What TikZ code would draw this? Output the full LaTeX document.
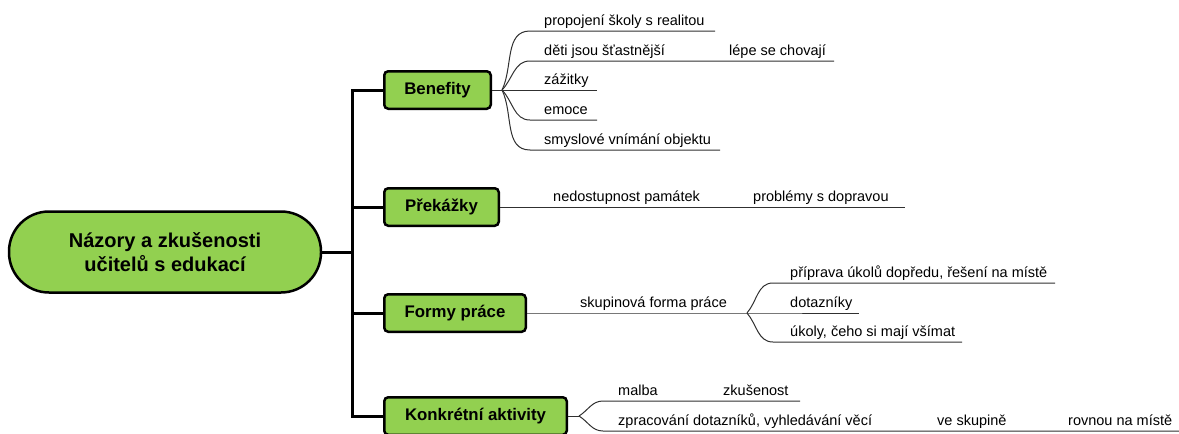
\documentclass[tikz,border=0pt]{standalone}
\usepackage{fontspec}
\setmainfont{Liberation Sans}
\definecolor{boxgreen}{HTML}{92D050}
\definecolor{linegray}{HTML}{303030}
\begin{document}
\begin{tikzpicture}[x=1pt,y=-1pt,
  root/.style={draw=black,line width=2.5pt,fill=boxgreen,rounded corners=40pt,minimum width=312pt,minimum height=81pt,align=center,inner sep=0pt,font=\bfseries\fontsize{20}{24}\selectfont},
  topic/.style={draw=black,line width=2.5pt,fill=boxgreen,rounded corners=4pt,minimum height=37.5pt,inner sep=0pt,font=\bfseries\fontsize{16.8}{20}\selectfont},
  leaf/.style={anchor=base west,inner sep=0pt,font=\fontsize{14.5}{17}\selectfont},
  trunk/.style={line width=3pt,draw=black},
  twig/.style={line width=1pt,draw=linegray},
]
\useasboundingbox (0,0) rectangle (1179,434);

% main nodes
\node[root] (root) at (165,252) {Názory a zkušenosti\\učitelů s edukací};
\node[topic,minimum width=106.5pt] (ben) at (437.5,90) {Benefity};
\node[topic,minimum width=114.5pt] (pre) at (441.5,207) {Překážky};
\node[topic,minimum width=141.5pt] (for) at (455,313) {Formy práce};
\node[topic,minimum width=182.5pt] (kon) at (475.5,416) {Konkrétní aktivity};

% trunk
\coordinate (tj) at (352,252);
\coordinate (ttop) at (352,90);
\coordinate (tbot) at (352,416);
\draw[trunk] (root.east) -- (tj);
\draw[trunk] (ben.west) -- (ttop) -- (tbot) -- (kon.west);
\draw[trunk] (tj |- pre.west) -- (pre.west);
\draw[trunk] (tj |- for.west) -- (for.west);

% Benefity branches
\coordinate (bb) at (502,90);
\coordinate (b1s) at (530,31); \coordinate (b1e) at (715,31);
\coordinate (b2s) at (530,61); \coordinate (b2e) at (834,61);
\coordinate (b3e) at (597,90);
\coordinate (b4s) at (530,120); \coordinate (b4e) at (597,120);
\coordinate (b5s) at (530,150); \coordinate (b5e) at (720,150);
\draw[twig] (ben.east) -- (b3e);
\draw[twig] (bb) to[out=64,in=180] (b1s) -- (b1e);
\draw[twig] (bb) to[out=46,in=180] (b2s) -- (b2e);
\draw[twig] (bb) to[out=-46,in=180] (b4s) -- (b4e);
\draw[twig] (bb) to[out=-64,in=180] (b5s) -- (b5e);
\node[leaf] (l1) at (544,25) {propojení školy s realitou};
\node[leaf] (l2) at (544,55) {děti jsou šťastnější};
\node[leaf] (l2b) at (729,55) {lépe se chovají};
\node[leaf] (l3) at (544,84) {zážitky};
\node[leaf] (l4) at (544,114) {emoce};
\node[leaf] (l5) at (544,144) {smyslové vnímání objektu};

% Překážky
\coordinate (pe) at (905,207);
\draw[twig] (pre.east) -- (pe);
\node[leaf] (p1) at (553,201) {nedostupnost památek};
\node[leaf] (p2) at (753,201) {problémy s dopravou};

% Formy práce
\coordinate (fb) at (747,313);
\coordinate (f1s) at (773,283); \coordinate (f1e) at (1055,283);
\coordinate (f2e) at (859,313);
\coordinate (f3s) at (773,342); \coordinate (f3e) at (962,342);
\draw[twig] (for.east) -- (fb) -- (f2e);
\draw[twig] (fb) to[out=49,in=180] (f1s) -- (f1e);
\draw[twig] (fb) to[out=-49,in=180] (f3s) -- (f3e);
\node[leaf] (f0) at (580,307) {skupinová forma práce};
\node[leaf] (f1) at (790,277) {příprava úkolů dopředu, řešení na místě};
\node[leaf] (f2) at (790,307) {dotazníky};
\node[leaf] (f3) at (790,336) {úkoly, čeho si mají všímat};

% Konkrétní aktivity
\coordinate (kb) at (579,416);
\coordinate (k1s) at (603,401); \coordinate (k1e) at (800,401);
\coordinate (k2s) at (603,431); \coordinate (k2e) at (1179,431);
\draw[twig] (kon.east) -- (kb);
\draw[twig] (kb) to[out=32,in=180] (k1s) -- (k1e);
\draw[twig] (kb) to[out=-32,in=180] (k2s) -- (k2e);
\node[leaf] (k1) at (618,395) {malba};
\node[leaf] (k1b) at (723,395) {zkušenost};
\node[leaf] (k2) at (618,425) {zpracování dotazníků, vyhledávání věcí};
\node[leaf] (k2b) at (937,425) {ve skupině};
\node[leaf] (k2c) at (1068,425) {rovnou na místě};
\end{tikzpicture}
\end{document}
